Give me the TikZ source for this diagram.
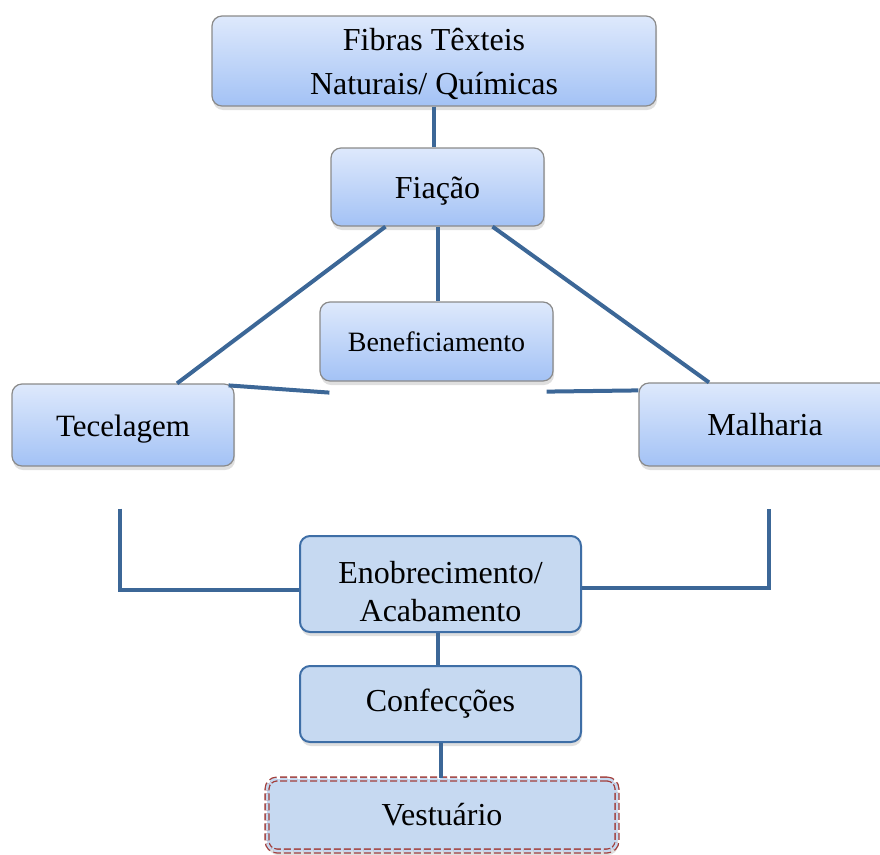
\documentclass[tikz,border=0pt]{standalone}
\usepackage{fontspec}
\setmainfont{Liberation Serif}
\usepackage{tikz}
\usetikzlibrary{positioning}
\usetikzlibrary{shadows}
\definecolor{linkblue}{HTML}{3C6797}
\definecolor{boxtop}{HTML}{DEE9FC}
\definecolor{boxbottom}{HTML}{A3C2F5}
\definecolor{boxgray}{HTML}{8A8A8A}
\definecolor{flatfill}{HTML}{C6D9F1}
\definecolor{flatedge}{HTML}{3E6EA6}
\definecolor{dashred}{HTML}{A23E3B}
\tikzset{%
  every stage/.style={
    rectangle,
    rounded corners=10pt,
    align=center,
    font=\fontsize{32}{44}\selectfont,
    drop shadow={shadow xshift=1pt, shadow yshift=-4pt, opacity=0.25}
  },
  stage shaded/.style={
    every stage,
    draw=boxgray,
    line width=1.2pt,
    top color=boxtop,
    bottom color=boxbottom
  },
  stage flat/.style={
    every stage,
    draw=flatedge,
    line width=2pt,
    fill=flatfill
  },
  stage final/.style={
    every stage,
    draw=dashred,
    dash pattern=on 7pt off 3pt,
    line width=1.3pt,
    double=flatfill,
    double distance=2.5pt,
    fill=flatfill
  },
  lowered/.style={
    text height=26pt,
    text depth=3pt
  },
  link/.style={
    linkblue,
    line width=4pt
  },
}

\begin{document}
\begin{tikzpicture}[x=1pt, y=-1pt]
\useasboundingbox (0,0) rectangle (880,854);
    \node[stage shaded, minimum width=444pt, minimum height=90pt, text depth=0pt] (fibras) at (434,61) {Fibras Têxteis\\Naturais/ Químicas};
    \node[stage shaded, lowered, minimum width=213pt, minimum height=78pt] (fiacao) at (437.5,187) {Fiação};
    \node[stage shaded, minimum width=233pt, minimum height=79pt, font=\fontsize{28}{34}\selectfont] (benef) at (436.5,341.5) {Beneficiamento};
    \node[stage shaded, lowered, minimum width=222pt, minimum height=82pt, font=\fontsize{31}{40}\selectfont] (tecelagem) at (123,425) {Tecelagem};
    \node[stage shaded, minimum width=252pt, minimum height=83pt] (malharia) at (765,424.5) {Malharia};
    \node[stage flat, minimum width=281pt, minimum height=96pt, font=\fontsize{32}{38}\selectfont, text height=74pt, text depth=0pt] (enob) at (440.5,584) {Enobrecimento/\\Acabamento};
    \node[stage flat, minimum width=281pt, minimum height=76pt] (confec) at (440.5,704) {Confecções};
    \node[stage final, minimum width=350pt, minimum height=72pt] (vest) at (442,815) {Vestuário};

    \coordinate (tecdown) at ([shift={(-3pt,-42pt)}]tecelagem.south);
    \coordinate (maldown) at ([shift={(4pt,-42pt)}]malharia.south);

   \draw[link] (fibras.south) -- (fibras.south |- fiacao.north);
   \draw[link] ([xshift=-52pt]fiacao.south) -- ([xshift=54pt]tecelagem.north);
   \draw[link] (fiacao.south) -- (fiacao.south |- benef.north);
   \draw[link] ([xshift=55pt]fiacao.south) -- ([xshift=-56pt]malharia.north);
   \draw[link] ([shift={(-6pt,-2pt)}]tecelagem.north east) -- ([shift={(10pt,-11pt)}]benef.south west);
   \draw[link] ([shift={(-7pt,-10pt)}]benef.south east) -- ([yshift=-8pt]malharia.north west);
   \draw[link] (tecdown) |- ([yshift=-6pt]enob.west);
   \draw[link] ([yshift=-4pt]enob.east) -| (maldown);
   \draw[link] ([xshift=-3pt]enob.south) -- ([xshift=-3pt]confec.north);
   \draw[link] (confec.south) -- (confec.south |- vest.north);
\end{tikzpicture}
\end{document}
